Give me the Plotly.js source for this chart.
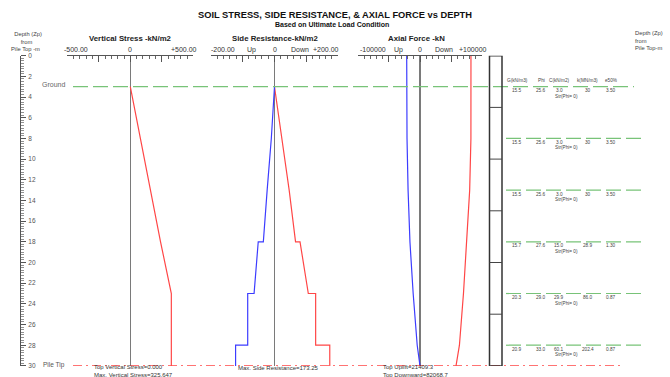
<!DOCTYPE html>
<html><head><meta charset="utf-8">
<script src="https://cdn.plot.ly/plotly-3.0.1.min.js"></script>
<style>html,body{margin:0;padding:0;background:#fff;}#chart{width:670px;height:377px;}</style>
</head><body><div id="chart"></div>
<script>
// ---------------- DATA ----------------
const groundDepth = 3;
const tipDepth = 30;
const layerTops = [3, 8, 13, 18, 23, 28];
const layerGamma = ['15.5', '15.5', '15.5', '15.7', '20.3', '20.9'];
const layerPhi = ['25.6', '25.6', '25.6', '27.6', '29.0', '33.0'];
const layerC = ['3.0', '3.0', '3.0', '15.0', '29.9', '60.1'];
const layerK = ['30', '30', '30', '28.9', '86.0', '202.4'];
const layerE50 = ['3.50', '3.50', '3.50', '1.30', '0.87', '0.87'];
const layerNote = ['Str(Phi= 0)', 'Str(Phi= 0)', 'Str(Phi= 0)', 'Str(Phi= 0)', 'Str(Phi= 0)', 'Str(Phi= 0)'];
const tableHeaders = ['G(kN/m3)', 'Phi', 'C(kN/m2)', 'k(MN/m3)', 'e50%'];

const vsDepth = [3, 8, 13, 18, 23, 30];
const vsValue = [0, 78, 158, 240, 325.647, 325.647];

const srDepth = [3, 8, 13, 18, 18, 23, 23, 28, 28, 30];
const srDown = [0, 23, 46, 66, 80, 106, 129, 129, 173.25, 173.25];
const srUp = [0, -10, -23, -35, -51, -64, -84, -84, -122, -122];

const axDepth = [0, 3, 8, 13, 18, 23, 28, 30];
const axUp = [-21409.3, -21409.3, -20900, -19200, -16200, -11000, -4500, 0];
const axDown = [82068.7, 82068.7, 82000, 80000, 75500, 70000, 63500, 58000];

const pileJoints = [5, 10, 15, 20, 25];
const depthTicks = [0, 2, 4, 6, 8, 10, 12, 14, 16, 18, 20, 22, 24, 26, 28, 30];

const vsTickVals = [-500, 0, 500];
const vsTickText = ['-500.00', '0', '+500.00'];
const srTickVals = [-200, 0, 200];
const srTickText = ['-200.00', '0', '+200.00'];
const axTickVals = [-100000, 0, 100000];
const axTickText = ['-100000', '0', '+100000'];

// ---------------- LAYOUT HELPERS ----------------
const W = 670, H = 377;
const px = v => v / W;
const py = v => 1 - v / H;
const F = 'Liberation Sans, Arial, sans-serif';
const RED = 'rgb(255,70,70)';
const BLUE = 'rgb(60,60,255)';
const GREEN = 'rgb(120,195,120)';

function ann(text, x, y, o) {
  return Object.assign({
    text: text, x: px(x), y: py(y), xref: 'paper', yref: 'paper', showarrow: false,
    xanchor: 'center', yanchor: 'middle', font: { family: F, size: 6.5, color: '#333' }
  }, o || {});
}

function ruler(dom, range, major, minorStep) {
  return {
    domain: dom, range: range, anchor: 'y', side: 'top',
    showline: true, linecolor: '#555', linewidth: 1,
    ticks: 'inside', tickvals: major, ticklen: 6, tickwidth: 1, tickcolor: '#555',
    minor: { dtick: minorStep, tick0: 0, ticks: 'inside', ticklen: 3, tickwidth: 1, tickcolor: '#666' },
    showticklabels: false, showgrid: false,
    zeroline: true, zerolinecolor: '#7a7a7a', zerolinewidth: 1.6, fixedrange: true
  };
}

function depthAxis(pos, side) {
  return {
    domain: [py(365.9), py(55.7)], range: [30, 0], anchor: 'free', position: pos, side: side,
    showline: true, linecolor: '#555', linewidth: 1.5,
    ticks: 'outside', tickvals: depthTicks, ticklen: 5, tickwidth: 1, tickcolor: '#555',
    minor: { dtick: 0.25, tick0: 0, ticks: 'outside', ticklen: 2.5, tickwidth: 0.8, tickcolor: '#777' },
    tickfont: { family: F, size: 6.5, color: '#555' }, ticklabelstandoff: 1,
    showgrid: false, zeroline: false, fixedrange: true
  };
}

// ---------------- TRACES ----------------
const traces = [
  { x: vsValue, y: vsDepth, xaxis: 'x', yaxis: 'y', mode: 'lines', line: { color: RED, width: 1.2 } },
  { x: srDown, y: srDepth, xaxis: 'x2', yaxis: 'y', mode: 'lines', line: { color: RED, width: 1.2 } },
  { x: srUp, y: srDepth, xaxis: 'x2', yaxis: 'y', mode: 'lines', line: { color: BLUE, width: 1.2 } },
  { x: axDown, y: axDepth, xaxis: 'x3', yaxis: 'y', mode: 'lines', line: { color: RED, width: 1.2 } },
  { x: axUp, y: axDepth, xaxis: 'x3', yaxis: 'y', mode: 'lines', line: { color: BLUE, width: 1.2 } }
];

// ---------------- ANNOTATIONS ----------------
const annotations = [];
annotations.push(ann('<b>Based on Ultimate Load Condition</b>', 332, 24.3,
  { font: { family: F, size: 7, color: '#111' }, borderpad: 0 }));
const titleFont = { family: F, size: 7.8, color: '#222' };
annotations.push(ann('<b>Vertical Stress -kN/m2</b>', 130, 38.5, { font: titleFont }));
annotations.push(ann('<b>Side Resistance-kN/m2</b>', 274.5, 38.5, { font: titleFont }));
annotations.push(ann('<b>Axial Force -kN</b>', 416, 38.5, { font: titleFont }));

function rulerLabels(axRef, vals, texts, lshift, rshift) {
  const o = { xref: axRef, y: py(50), yref: 'paper', showarrow: false, yanchor: 'middle',
    font: { family: F, size: 7, color: '#333' } };
  annotations.push(Object.assign({}, o, { x: vals[0], text: texts[0], xanchor: 'left', xshift: lshift }));
  annotations.push(Object.assign({}, o, { x: vals[1], text: texts[1], xanchor: 'center' }));
  annotations.push(Object.assign({}, o, { x: vals[2], text: texts[2], xanchor: 'right', xshift: rshift }));
}
rulerLabels('x', vsTickVals, vsTickText, -5, 6);
rulerLabels('x2', srTickVals, srTickText, -2, 3);
rulerLabels('x3', axTickVals, axTickText, 0, 7);
annotations.push(ann('Up', 251, 50, { font: { family: F, size: 7, color: '#333' } }));
annotations.push(ann('Down', 300, 50, { font: { family: F, size: 7, color: '#333' } }));
annotations.push(ann('Up', 398.5, 50, { font: { family: F, size: 7, color: '#333' } }));
annotations.push(ann('Down', 444, 50, { font: { family: F, size: 7, color: '#333' } }));

// depth axis headers (one multi-line text each)
const dh = { family: F, size: 5.8, color: '#444' };
annotations.push(ann('&nbsp;&nbsp;Depth (Zp)<br>&nbsp;&nbsp;&nbsp;&nbsp;&nbsp;&nbsp;from<br>Pile Top -m', 10, 41.5,
  { xanchor: 'left', align: 'left', font: dh, borderpad: 0 }));
annotations.push(ann('Depth (Zp)<br>from<br>Pile Top-m', 634, 41,
  { xanchor: 'left', align: 'left', font: dh, borderpad: 0 }));

annotations.push({ text: 'Ground', x: px(67), xref: 'paper', y: groundDepth, yref: 'y', yshift: 2.5,
  xanchor: 'right', yanchor: 'middle', showarrow: false, font: { family: F, size: 7, color: '#666' } });
annotations.push({ text: 'Pile Tip', x: px(67), xref: 'paper', y: tipDepth, yref: 'y', yshift: 1,
  xanchor: 'right', yanchor: 'middle', showarrow: false, font: { family: F, size: 6.5, color: '#555' } });

// bottom summary texts (from data), two-line blocks
const bf = { family: F, size: 6, color: '#333' };
annotations.push(ann('Top Vertical Stress=' + vsValue[0].toFixed(3) + '<br>Max. Vertical Stress=' +
  Math.max(...vsValue).toFixed(3), 93, 370.6, { xanchor: 'left', align: 'left', font: bf, borderpad: 0 }));
annotations.push(ann('Max. Side Resistance=' + Math.max(...srDown).toFixed(2), 237, 367.5,
  { xanchor: 'left', font: bf, borderpad: 0 }));
annotations.push(ann('Top Uplift=' + (-axUp[0]).toFixed(1) + '<br>Top Downward=' + axDown[0].toFixed(1),
  382, 371, { xanchor: 'left', align: 'left', font: bf, borderpad: 0 }));

// soil table
const colX = [517, 541, 559, 587.5, 611];
const tf = { family: F, size: 4.7, color: '#444' };
tableHeaders.forEach((h, j) => {
  annotations.push({ text: h, x: px(colX[j]), xref: 'paper', y: groundDepth, yref: 'y', yshift: 6,
    showarrow: false, xanchor: 'center', yanchor: 'middle', font: tf });
});
layerTops.forEach((d, i) => {
  const vals = [layerGamma[i], layerPhi[i], layerC[i], layerK[i], layerE50[i]];
  vals.forEach((v, j) => {
    annotations.push({ text: v, x: px(colX[j]), xref: 'paper', y: d, yref: 'y', yshift: -4,
      showarrow: false, xanchor: 'center', yanchor: 'middle', font: tf });
  });
  annotations.push({ text: layerNote[i], x: px(566), xref: 'paper', y: d, yref: 'y', yshift: -9.5,
    showarrow: false, xanchor: 'center', yanchor: 'middle', font: tf });
});

// ---------------- SHAPES ----------------
const shapes = [];
shapes.push({ type: 'line', xref: 'paper', yref: 'y', x0: px(73), x1: px(634), y0: groundDepth, y1: groundDepth,
  line: { color: GREEN, width: 1.2, dash: '15px,5px' } });
layerTops.filter(d => d !== groundDepth).forEach(d => {
  shapes.push({ type: 'line', xref: 'paper', yref: 'y', x0: px(506), x1: px(641), y0: d, y1: d,
    line: { color: GREEN, width: 1.2, dash: '15px,5px' } });
});
shapes.push({ type: 'line', xref: 'paper', yref: 'y', x0: px(73), x1: px(622), y0: tipDepth, y1: tipDepth,
  line: { color: 'rgb(255,70,70)', width: 1.2, dash: '9px,4px,2px,4px' } });
shapes.push({ type: 'rect', xref: 'paper', yref: 'y', x0: px(489.5), x1: px(502), y0: 0, y1: tipDepth,
  line: { color: '#333', width: 1.5 }, fillcolor: 'rgba(0,0,0,0)' });
pileJoints.forEach(d => {
  shapes.push({ type: 'line', xref: 'paper', yref: 'y', x0: px(489.5), x1: px(502), y0: d, y1: d,
    line: { color: '#444', width: 1 } });
});

// ---------------- LAYOUT ----------------
const yax2 = depthAxis(px(651.7), 'left');
yax2.overlaying = 'y';

const layout = {
  width: W, height: H,
  margin: { l: 0, r: 0, t: 0, b: 0 },
  paper_bgcolor: '#fff', plot_bgcolor: 'rgba(0,0,0,0)',
  showlegend: false, hovermode: false,
  title: { text: '<b>SOIL STRESS, SIDE RESISTANCE, &amp; AXIAL FORCE vs DEPTH</b>', x: 0.5, xanchor: 'center',
    y: py(14.3), yref: 'paper', yanchor: 'middle', pad: { t: 0, b: 0, l: 0, r: 0 },
    font: { family: F, size: 9.3, color: '#111' } },
  xaxis: ruler([px(67.3), px(193.3)], [-500, 500], [-500, -250, 0, 250, 500], 50),
  xaxis2: ruler([px(210.7), px(338.3)], [-200, 200], [-200, -100, 0, 100, 200], 20),
  xaxis3: ruler([px(357.9), px(482.1)], [-100000, 100000], [-100000, -50000, 0, 50000, 100000], 10000),
  yaxis: depthAxis(px(19.5), 'right'),
  yaxis2: yax2,
  annotations: annotations,
  shapes: shapes
};

Plotly.newPlot('chart', traces, layout, { staticPlot: true, displayModeBar: false });
</script>
</body></html>
